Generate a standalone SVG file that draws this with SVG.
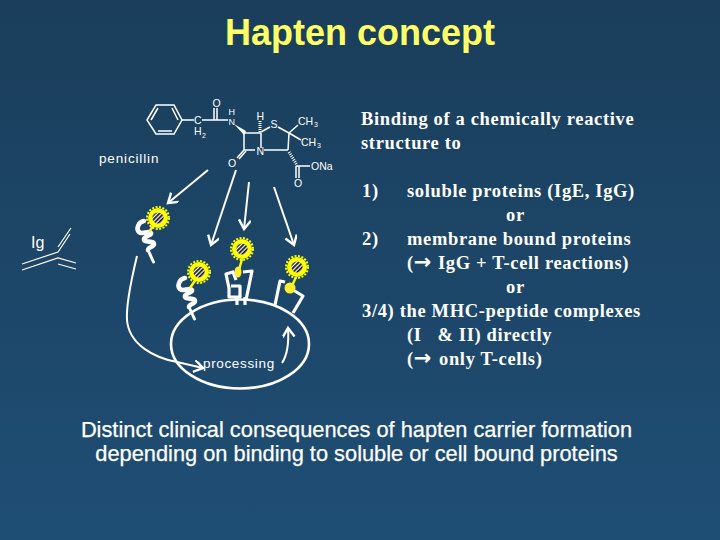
<svg xmlns="http://www.w3.org/2000/svg" width="720" height="540" viewBox="0 0 720 540">
<style>
.t{font-family:"Liberation Sans",Arial,sans-serif;}
.title{font-size:36px;font-weight:bold;fill:#ffff66;text-anchor:middle}
.sub{font-family:"Liberation Sans",Arial,sans-serif;font-size:21.8px;fill:#fff;stroke:#fff;stroke-width:.25;text-anchor:middle}
.s{font-family:"Liberation Serif","Times New Roman",serif;font-size:18.5px;letter-spacing:.65px;font-weight:bold;fill:#fff}
.sm{font-family:"Liberation Sans",Arial,sans-serif;font-size:10.5px;fill:#fff}
.l{fill:none;stroke:#fff;stroke-width:3.2;stroke-linecap:butt;stroke-linejoin:round}
.b{fill:none;stroke:#fff;stroke-width:1.5}
.a{fill:none;stroke:#fff;stroke-width:2}
.coil{fill:none;stroke:#fff;stroke-width:4.6;stroke-linecap:round;stroke-linejoin:round}
.tail{fill:none;stroke:#fff;stroke-width:3;stroke-linecap:round}
.stem{stroke:#ffff00;stroke-width:2.4;fill:none}
.arr{font-family:"DejaVu Sans",sans-serif;font-size:21px;letter-spacing:0}
</style>
<defs>
<linearGradient id="bg" x1="0" y1="0" x2="0" y2="1"><stop offset="0" stop-color="#1a3e5b"/><stop offset="1" stop-color="#1f4e75"/></linearGradient>
<pattern id="hatch" width="3" height="3" patternUnits="userSpaceOnUse" patternTransform="rotate(45)"><rect width="3" height="3" fill="#fff"/><rect width="1.700" height="3" fill="#111"/></pattern>
<g id="sun"><circle r="10" fill="#ffff00"/><circle r="11" fill="none" stroke="#ffff00" stroke-width="2" stroke-dasharray="2 1.500"/><circle r="5.600" fill="url(#hatch)"/></g>
<g id="helix"><path class="coil" d="M-4-15C-10-14-12-7-9-4C-6-1 1-6 3-3C4 0-5 0-4 4C-3 7 6 4 6 8C6 11 0 11 0 14"/><path class="tail" d="M0 14L5.500 26"/></g>
<marker id="ah" markerWidth="14" markerHeight="14" refX="10" refY="6" orient="auto" markerUnits="userSpaceOnUse"><path d="M1 0L10 6L1 12" fill="none" stroke="#fff" stroke-width="2.400"/></marker>
</defs>
<rect width="720" height="540" fill="url(#bg)"/>
<text class="t title" x="360" y="45">Hapten concept</text>

<g id="penicillin-structure">
<g class="b">
<path d="M147 120L156 105H174L182 120L174 134H156Z"/><path d="M151 120L158 108M172 108L178 120M172 131H158"/>
<path d="M182 120H194M202 120H228M214 120V108M217 120V108"/>
<path d="M244 133H261M261 133V148M244 133V150M244 150H255M264 150H288M261 132L270 127M278 127L289 133L288 150M289 133L298 125M289 133L301 140"/>
<path d="M244 150L237 158M246 151L239 159M299 166H310M296 166V178M299 166V178M296 166H299"/>
</g>
<path d="M234 124L246 131L244 135Z" fill="#fff"/>
<path d="M260 121V132" stroke="#fff" stroke-width="3" stroke-dasharray="1 1" fill="none"/>
<path d="M289 152L297 165" stroke="#fff" stroke-width="3" stroke-dasharray="1 1.200" fill="none"/>
<g class="sm">
<text x="212.500" y="107">O</text><text x="194" y="124">C</text><text x="194" y="135">H</text><text x="202" y="138" font-size="7">2</text>
<text x="228.500" y="115" font-size="9">H</text><text x="228.500" y="125" font-size="9">N</text><text x="256.500" y="120">H</text><text x="270.500" y="128">S</text><text x="298" y="125">CH</text><text x="314" y="127" font-size="7">3</text>
<text x="301" y="146">CH</text><text x="317" y="148" font-size="7">3</text><text x="256.500" y="155">N</text><text x="228" y="167">O</text><text x="311" y="170">ONa</text><text x="294" y="187">O</text>
</g>
</g>
<text id="penicillin-label" class="t" x="99" y="163" font-size="13.500" letter-spacing=".85" fill="#fff">penicillin</text>
<text id="ig-label" class="t" x="31" y="248" font-size="16" fill="#fff">Ig</text>
<g id="ig-shape" fill="none" stroke="#fff" stroke-width="1.200"><path d="M22 264L58 252L70 234M58 247L71 228M22 270L58 258L76 263M58 264L76 269"/></g>

<g id="node-soluble"><use href="#helix" x="148" y="236"/><path d="M149 232L153 226" stroke="#ffe860" stroke-width="2.400" fill="none"/><use href="#sun" x="158" y="218"/></g>
<g id="node-membrane-1"><use href="#helix" x="189" y="293"/><path class="stem" d="M190 288L196 279"/><use href="#sun" x="199" y="272"/></g>
<g id="node-membrane-2"><path class="l" d="M236 280L233 272L226 274L229 288L229 297H240V286H231M243 272L252 271L246 300M237 297V305M245 297V305"/><path class="stem" d="M242 259L239 270"/><ellipse cx="238" cy="272" rx="3.500" ry="5.500" fill="#ffee30"/><use href="#sun" x="242" y="249"/></g>
<g id="node-mhc"><path class="l" d="M275 305L280 281L285 282M293 290L303 296L293 313"/><path class="stem" d="M296 277L292 286"/><circle cx="290" cy="288" r="5.500" fill="#ffee30"/><use href="#sun" x="297" y="267"/></g>
<g id="node-cell"><ellipse cx="240" cy="344" rx="69" ry="44.500" fill="none" stroke="#fff" stroke-width="2.600"/><text class="t" x="203" y="368" font-size="13.500" letter-spacing=".65" fill="#fff">processing</text></g>

<g id="connectors">
<path class="a" d="M208 170L168 203" marker-end="url(#ah)"/>
<path class="a" d="M236 170L211 245" marker-end="url(#ah)"/>
<path class="a" d="M249 182L244 229" marker-end="url(#ah)"/>
<path class="a" d="M274 187L294 245" marker-end="url(#ah)"/>
<path class="a" d="M137 256C130 285 126 305 127 320C129 345 155 358 177 362L203 368" marker-end="url(#ah)"/>
<path class="a" d="M282 363C288 354 289 343 288 328" marker-end="url(#ah)"/>
</g>

<g id="text-right" class="s">
<text x="361" y="125">Binding of a chemically reactive</text>
<text x="361" y="149">structure to</text>
<text x="362" y="197">1)</text><text x="407" y="197">soluble proteins (IgE, IgG)</text>
<text x="506" y="221">or</text>
<text x="362" y="245">2)</text><text x="407" y="245">membrane bound proteins</text>
<text x="407" y="269">(<tspan class="arr">→</tspan><tspan x="438">IgG + T-cell reactions)</tspan></text>
<text x="506" y="293">or</text>
<text x="362" y="317">3/4) the MHC-peptide complexes</text>
<text x="407" y="341" xml:space="preserve">(I   &amp; II) directly</text>
<text x="407" y="365">(<tspan class="arr">→</tspan><tspan x="439">only T-cells)</tspan></text>
</g>
<g id="text-bottom">
<text class="sub" x="356.500" y="437">Distinct clinical consequences of hapten carrier formation</text>
<text class="sub" x="356.500" y="461">depending on binding to soluble or cell bound proteins</text>
</g>
</svg>
